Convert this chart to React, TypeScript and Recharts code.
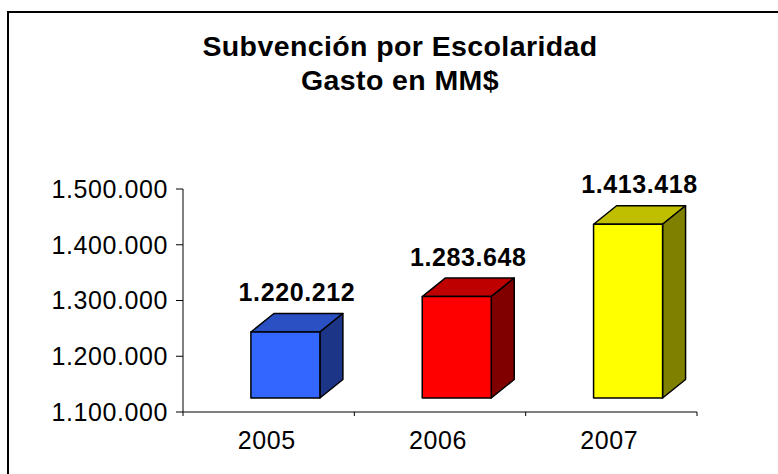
import { BarChart, Bar, XAxis, YAxis, LabelList } from 'recharts';

const years = ['2005', '2006', '2007'];
const gasto = [1220212, 1283648, 1413418];
const yTicks = [1100000, 1200000, 1300000, 1400000, 1500000];

const data = years.map((year, i) => ({ year, gasto: gasto[i] }));

// chart layout
const W = 778;
const H = 474;
const LEFT = 183;
const RIGHT = 81;
const TOP = 189;
const X_AXIS_H = 62;
const PLOT_BOTTOM = H - X_AXIS_H;
const CAT_W = (W - LEFT - RIGHT) / years.length;

// fake 3d look
const SHIFT_X = 16.5;
const LIFT_TOP = 13;
const LIFT_BOTTOM = 14;
const DX = 23;
const DY = 18.5;

const faces = [
    { front: '#3366FF', top: '#2A50C4', side: '#1C3586' },
    { front: '#FF0000', top: '#BF0000', side: '#800000' },
    { front: '#FFFF00', top: '#BFBF00', side: '#808000' },
];

const FONT = '"Liberation Sans", Arial, sans-serif';

const fmt = (v: number) => String(v).replace(/\B(?=(\d{3})+(?!\d))/g, '.');

function Bar3D(props: any) {
    const { x, y, width, height, payload } = props;
    const i = Math.max(0, years.indexOf(payload?.year));
    const c = faces[i];
    const left = x + SHIFT_X;
    const right = left + width;
    const top = y - LIFT_TOP;
    const bottom = y + height - LIFT_BOTTOM;
    return (
        <g stroke="#000" strokeWidth={1.5} strokeLinejoin="round">
            <polygon
                points={`${left},${top} ${left + DX},${top - DY} ${right + DX},${top - DY} ${right},${top}`}
                fill={c.top}
            />
            <polygon
                points={`${right},${top} ${right + DX},${top - DY} ${right + DX},${bottom - DY} ${right},${bottom}`}
                fill={c.side}
            />
            <rect x={left} y={top} width={width} height={bottom - top} fill={c.front} />
        </g>
    );
}

function ValueLabel(props: any) {
    const { x, y, width, value } = props;
    return (
        <text
            x={x + SHIFT_X + (width + DX) / 2}
            y={y - 44}
            textAnchor="middle"
            fontFamily={FONT}
            fontSize={25}
            fontWeight="bold"
            letterSpacing={0.6}
            fill="#000"
        >
            {fmt(value)}
        </text>
    );
}

function YearTick(props: any) {
    const { x, payload, index } = props;
    const last = index === years.length - 1;
    return (
        <g>
            <line x1={x - CAT_W / 2} x2={x - CAT_W / 2} y1={PLOT_BOTTOM} y2={PLOT_BOTTOM + 4} stroke="#000" />
            {last && (
                <line x1={x + CAT_W / 2} x2={x + CAT_W / 2} y1={PLOT_BOTTOM} y2={PLOT_BOTTOM + 4} stroke="#000" />
            )}
            <text
                x={x - 2}
                y={PLOT_BOTTOM + 37}
                textAnchor="middle"
                fontFamily={FONT}
                fontSize={25}
                letterSpacing={0.6}
                fill="#000"
            >
                {payload.value}
            </text>
        </g>
    );
}

export default function App() {
    return (
        <div style={{ position: 'relative', width: W, height: H, overflow: 'hidden', background: '#fff' }}>
            <style>{'body{margin:0;overflow:hidden}'}</style>
            <div
                style={{
                    position: 'absolute',
                    left: 7,
                    top: 11,
                    width: 900,
                    height: 600,
                    border: '2px solid #000',
                }}
            />
            <div
                style={{
                    position: 'absolute',
                    left: 0,
                    top: 29,
                    width: 800,
                    textAlign: 'center',
                    fontFamily: FONT,
                    fontWeight: 'bold',
                    fontSize: 28.5,
                    letterSpacing: 0.4,
                    lineHeight: '34px',
                    color: '#000',
                }}
            >
                Subvención por Escolaridad
                <br />
                Gasto en MM$
            </div>
            <div style={{ position: 'absolute', left: 0, top: 0 }}>
                <BarChart
                    width={W}
                    height={H}
                    data={data}
                    margin={{ top: TOP, right: RIGHT, left: 0, bottom: 0 }}
                    barCategoryGap="30%"
                >
                    <XAxis
                        dataKey="year"
                        height={X_AXIS_H}
                        axisLine={{ stroke: '#000' }}
                        tickLine={false}
                        tick={<YearTick />}
                        interval={0}
                    />
                    <YAxis
                        width={LEFT}
                        domain={[1100000, 1500000]}
                        ticks={yTicks}
                        allowDataOverflow
                        axisLine={{ stroke: '#000' }}
                        tickLine={{ stroke: '#000' }}
                        tickSize={7}
                        tickMargin={8}
                        tickFormatter={fmt}
                        tick={{ fill: '#000', fontSize: 25, fontFamily: FONT, letterSpacing: 0.6 }}
                    />
                    <Bar dataKey="gasto" shape={<Bar3D />} isAnimationActive={false}>
                        <LabelList dataKey="gasto" content={<ValueLabel />} />
                    </Bar>
                </BarChart>
            </div>
        </div>
    );
}
